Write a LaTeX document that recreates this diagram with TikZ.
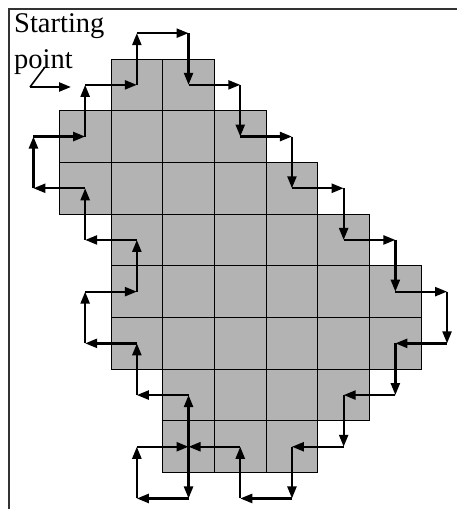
\documentclass[tikz,border=0pt]{standalone}
\usepackage{fontspec}
\setmainfont{Liberation Serif}
\usetikzlibrary{arrows.meta}
\begin{document}
\begin{tikzpicture}[x=1pt,y=-1pt,
  cellbox/.style={fill=cellgray,draw=black,line width=1pt},
  pathline/.style={line width=2.3pt,-{Triangle[length=12pt,width=9pt]}},
  frameline/.style={line width=1.2pt,draw=black!80},
  labeltext/.style={anchor=base west,align=left,inner sep=0pt,font=\fontsize{28.5}{36}\selectfont}]
\definecolor{cellgray}{RGB}{179,179,179}
\useasboundingbox (0,0) rectangle (457,509);
\def\gx{59.3}\def\gy{59}\def\cs{51.7}
% frame
\draw[frameline] (9,509) -- (9,9) -- (457,9);
% cells
\foreach \r/\a/\b in {0/1/2,1/0/3,2/0/4,3/1/5,4/1/6,5/1/6,6/2/5,7/2/4}{
  \foreach \c in {\a,...,\b}{
    \draw[cellbox] ({\gx+\c*\cs},{\gy+\r*\cs}) rectangle +(\cs,\cs);
  }
}
% path vertices
\foreach \c/\r [count=\i] in {0/0,1/0,1/-1,2/-1,2/0,3/0,3/1,4/1,4/2,5/2,5/3,6/3,6/4,7/4,7/5,6/5,6/6,5/6,5/7,4/7,4/8,3/8,3/7,2/7,2/8,1/8,1/7,2/7,2/6,1/6,1/5,0/5,0/4,1/4,1/3,0/3,0/2,-1/2,-1/1,0/1,0/0}{
  \coordinate (p\i) at ({\gx+(\c+0.5)*\cs},{\gy+(\r+0.5)*\cs});
}
\foreach \i [evaluate=\i as \j using {int(\i+1)}] in {1,...,40}{
  \draw[pathline] (p\i) -- (p\j);
}
% label and start arrow
\node[labeltext] (lbl) at (14,68) {Starting\\point};
\coordinate (s0) at (45,67);
\coordinate (s1) at (30,87);
\coordinate (s2) at (71,87);
\draw[line width=1.6pt] (s0) -- (s1);
\draw[pathline] (s1) -- (s2);
\end{tikzpicture}
\end{document}
